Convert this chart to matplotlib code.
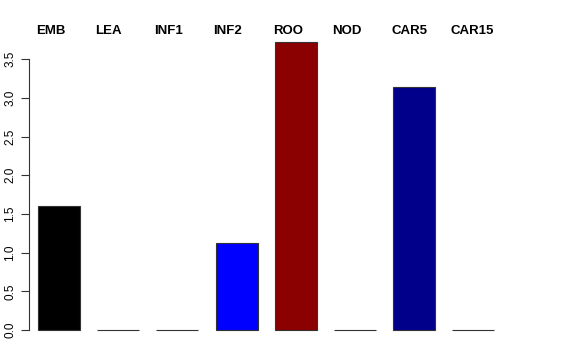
import matplotlib
matplotlib.use("Agg")
import matplotlib.pyplot as plt
from matplotlib.transforms import blended_transform_factory

labels = ["EMB", "LEA", "INF1", "INF2", "ROO", "NOD", "CAR5", "CAR15"]
values = [1.60, 0.0, 0.0, 1.12, 3.72, 0.0, 3.14, 0.0]
colors = ["#000000", "#000000", "#000000", "#0000FF", "#8B0000", "#000000", "#00008B", "#000000"]
yticks = [0.0, 0.5, 1.0, 1.5, 2.0, 2.5, 3.0, 3.5]

plt.rcParams['font.family'] = ['Liberation Sans', 'DejaVu Sans']

fig = plt.figure(figsize=(5.76, 3.6), dpi=100)
# axes box in pixels: left 29, right 503, top 30, bottom 340
ax = fig.add_axes([29 / 576, 20 / 360, 474 / 576, 310 / 360])

x = list(range(len(labels)))
ax.bar(x, values, width=0.71, color=colors, edgecolor="#333333", linewidth=0.8)

ax.set_xlim(-0.507, 7.5)
ax.set_ylim(-0.129, 3.876)

for s in ["top", "right", "bottom"]:
    ax.spines[s].set_visible(False)
ax.spines["left"].set_bounds(0, 3.5)
ax.spines["left"].set_color("#333333")
ax.spines["left"].set_linewidth(0.8)
ax.set_xticks([])
ax.set_yticks(yticks)
ax.set_yticklabels([f"{v:.1f}" for v in yticks], rotation=90, va="center", fontsize=8.5)
ax.tick_params(axis="y", length=6, width=0.8, color="#333333", pad=3)

# category names along the top, left-aligned with the bars
trans = blended_transform_factory(ax.transData, fig.transFigure)
for xi, lab in zip(x, labels):
    ax.text(xi - 0.39, 1 - 34.5 / 360, lab, transform=trans,
            ha="left", va="baseline", fontsize=9.5, fontweight="bold")

fig.savefig("out.png", dpi=100)
